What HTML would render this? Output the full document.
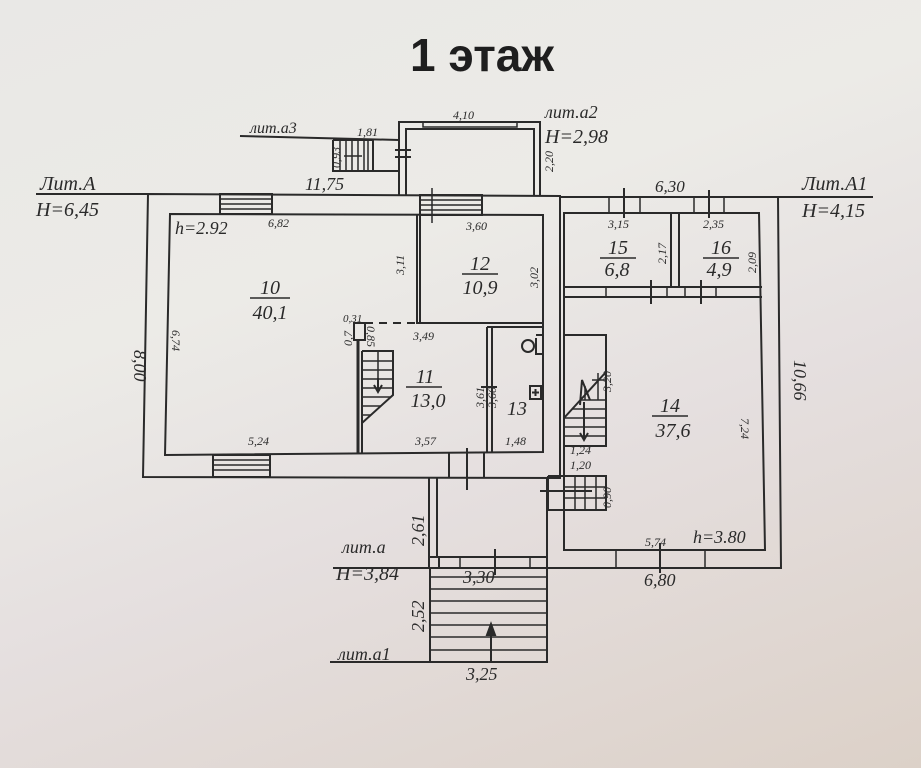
<!DOCTYPE html>
<html><head><meta charset="utf-8"><style>
html,body{margin:0;padding:0;width:921px;height:768px;overflow:hidden}
body{background:linear-gradient(160deg,#e9e8e6 0%,#ecebe7 35%,#e5dfdf 60%,#dcd1c8 100%)}
svg{position:absolute;left:0;top:0}
.t{font-family:"Liberation Serif",serif;font-style:italic;fill:#2a2a2a}
</style></head><body>
<svg width="921" height="768" viewBox="0 0 921 768">
<text x="482" y="71" text-anchor="middle" font-family="Liberation Sans,sans-serif" font-weight="bold" font-size="46" fill="#1e1e1e">1 этаж</text>
<g stroke="#2a2a2a" stroke-width="2" fill="none">
<line x1="36" y1="194" x2="148" y2="194"/>
<line x1="778" y1="197" x2="873" y2="197"/>
<path d="M148,194 L560,196 L560,478 L143,477 Z"/>
<path d="M170,214 L543,215 L543,452 L165,455 Z"/>
<path d="M417,215 L417,323 L543,323"/>
<line x1="420" y1="215" x2="420" y2="323"/>
<line x1="358" y1="340" x2="358" y2="454" stroke-width="3"/>
<line x1="362" y1="351" x2="362" y2="454"/>
<path d="M354,323 L365,323 L365,340 L354,340 Z"/>
<line x1="365" y1="323" x2="417" y2="323" stroke-dasharray="8,6"/>
<line x1="487" y1="327" x2="487" y2="453"/>
<line x1="492" y1="327" x2="492" y2="453"/>
<line x1="487" y1="327" x2="543" y2="327"/>
<line x1="481" y1="387" x2="497" y2="387"/>
<path d="M536,335 L543,335 M536,338 L536,354 L543,354"/>
<circle cx="528" cy="346" r="6"/>
<rect x="530" y="386" width="11" height="13"/>
<line x1="535.5" y1="389" x2="535.5" y2="396"/><line x1="532" y1="392.5" x2="539" y2="392.5"/>
<path d="M362,351 L393,351 L393,395 L362,423"/>
<g stroke-width="1.5"><line x1="362" y1="361" x2="393" y2="361"/><line x1="362" y1="370" x2="393" y2="370"/><line x1="362" y1="379" x2="393" y2="379"/><line x1="362" y1="388" x2="393" y2="388"/><line x1="362" y1="397" x2="391" y2="397"/><line x1="362" y1="406" x2="381" y2="406"/><line x1="362" y1="415" x2="371" y2="415"/><line x1="378" y1="351" x2="378" y2="392"/></g>
<path d="M378,378 L378,392 M374,385 L378,392 L382,385"/>
<rect x="220" y="194" width="52" height="20"/>
<g stroke-width="1.5"><line x1="220" y1="199" x2="272" y2="199"/><line x1="220" y1="204" x2="272" y2="204"/><line x1="220" y1="209" x2="272" y2="209"/></g>
<rect x="420" y="195" width="62" height="20"/>
<g stroke-width="1.5"><line x1="420" y1="200" x2="482" y2="200"/><line x1="420" y1="205" x2="482" y2="205"/><line x1="420" y1="210" x2="482" y2="210"/><line x1="432" y1="188" x2="432" y2="223"/></g>
<rect x="213" y="455" width="57" height="22"/>
<g stroke-width="1.5"><line x1="213" y1="460" x2="270" y2="460"/><line x1="213" y1="465" x2="270" y2="465"/><line x1="213" y1="470" x2="270" y2="470"/></g>
<path d="M449,453 L449,477 M484,453 L484,477"/>
<line x1="467" y1="448" x2="467" y2="490"/>
<path d="M399,195 L399,122 L540,122 L540,196"/>
<path d="M406,195 L406,129 L534,129 L534,196"/>
<rect x="423" y="122" width="94" height="5" stroke-width="1.5"/>
<line x1="395" y1="150" x2="411" y2="150"/><line x1="395" y1="157" x2="411" y2="157"/>
<line x1="240" y1="136" x2="399" y2="140"/>
<path d="M333,140 L373,140 L373,171 L399,171 M333,140 L333,171 L373,171"/>
<g stroke-width="1.5"><line x1="340" y1="140" x2="340" y2="171"/><line x1="346" y1="140" x2="346" y2="171"/><line x1="352" y1="140" x2="352" y2="171"/><line x1="358" y1="140" x2="358" y2="171"/><line x1="364" y1="140" x2="364" y2="171"/><line x1="368" y1="140" x2="368" y2="171"/><line x1="344" y1="156" x2="362" y2="156"/></g>
<path d="M560,197 L778,197 L781,568 L560,568"/>
<path d="M564,213 L759,213 L765,550 L564,550 Z"/>
<path d="M671,213 L671,287 M679,213 L679,287"/>
<path d="M564,287 L762,287 M564,297 L762,297"/>
<g stroke-width="1.5"><line x1="606" y1="287" x2="606" y2="297"/><line x1="667" y1="287" x2="667" y2="297"/><line x1="685" y1="287" x2="685" y2="297"/><line x1="716" y1="287" x2="716" y2="297"/></g>
<line x1="651" y1="280" x2="651" y2="304"/><line x1="701" y1="280" x2="701" y2="304"/>
<rect x="609" y="197" width="31" height="16" stroke-width="1.5"/>
<rect x="694" y="197" width="30" height="16" stroke-width="1.5"/>
<line x1="624" y1="188" x2="624" y2="218"/><line x1="709" y1="190" x2="709" y2="218"/>
<rect x="616" y="550" width="89" height="18" stroke-width="1.5"/>
<line x1="660" y1="543" x2="660" y2="573"/>
<rect x="564" y="335" width="42" height="111"/>
<line x1="564" y1="418" x2="606" y2="372"/>
<g stroke-width="1.5"><line x1="580" y1="400" x2="606" y2="400"/><line x1="572" y1="409" x2="606" y2="409"/><line x1="564" y1="418" x2="606" y2="418"/><line x1="564" y1="427" x2="606" y2="427"/><line x1="564" y1="436" x2="606" y2="436"/><line x1="592" y1="380" x2="606" y2="380"/><line x1="598" y1="373" x2="598" y2="400"/><line x1="585" y1="386" x2="585" y2="400"/></g>
<path d="M584,402 L584,440 M580,433 L584,440 L588,433"/>
<path d="M580,405 L582,380 L590,400"/>
<path d="M548,476 L606,476 L606,510 L548,510 L548,476"/>
<g stroke-width="1.5"><line x1="564" y1="476" x2="564" y2="510"/><line x1="575" y1="476" x2="575" y2="510"/><line x1="585" y1="476" x2="585" y2="510"/><line x1="596" y1="476" x2="596" y2="510"/><line x1="564" y1="487" x2="606" y2="487"/><line x1="564" y1="498" x2="606" y2="498"/></g>
<line x1="540" y1="491" x2="592" y2="491"/>
<path d="M429,478 L429,565 M437,478 L437,557 L547,557 L547,478"/>
<path d="M429,568 L547,568 M547,557 L547,568"/>
<rect x="429" y="557" width="10" height="11"/>
<line x1="460" y1="557" x2="460" y2="568" stroke-width="1.5"/><line x1="530" y1="557" x2="530" y2="568" stroke-width="1.5"/>
<line x1="495" y1="549" x2="495" y2="575"/>
<line x1="333" y1="568" x2="429" y2="568"/>
<line x1="547" y1="568" x2="616" y2="568"/>
<path d="M430,568 L430,662 L547,662 L547,568"/>
<g stroke-width="1.5"><line x1="430" y1="577" x2="547" y2="577"/><line x1="430" y1="589" x2="547" y2="589"/><line x1="430" y1="601" x2="547" y2="601"/><line x1="430" y1="613" x2="547" y2="613"/><line x1="430" y1="625" x2="547" y2="625"/><line x1="430" y1="637" x2="547" y2="637"/><line x1="430" y1="650" x2="547" y2="650"/></g>
<line x1="330" y1="662" x2="430" y2="662"/>
<line x1="491" y1="626" x2="491" y2="662"/>
<path d="M487,635 L491,624 L495,635 Z" fill="#2a2a2a"/>
</g>
<g class="t">
<text x="40" y="190" font-size="20">Лит.А</text>
<text x="36" y="216" font-size="20">H=6,45</text>
<text x="802" y="190" font-size="20">Лит.А1</text>
<text x="802" y="217" font-size="20">H=4,15</text>
<text x="250" y="133" font-size="16">лит.а3</text>
<text x="357" y="136" font-size="12">1,81</text>
<text x="545" y="118" font-size="18">лит.а2</text>
<text x="545" y="143" font-size="20">H=2,98</text>
<text x="453" y="119" font-size="12">4,10</text>
<text x="305" y="190" font-size="18">11,75</text>
<text x="655" y="192" font-size="17">6,30</text>
<text x="175" y="234" font-size="18">h=2.92</text>
<text x="268" y="227" font-size="12">6,82</text>
<text x="466" y="230" font-size="12">3,60</text>
<text x="608" y="228" font-size="12">3,15</text>
<text x="703" y="228" font-size="12">2,35</text>
<text x="270" y="294" text-anchor="middle" font-size="20">10</text>
<line x1="250" y1="298" x2="290" y2="298" stroke="#2a2a2a" stroke-width="1.5"/>
<text x="270" y="319" text-anchor="middle" font-size="20">40,1</text>
<text x="480" y="270" text-anchor="middle" font-size="20">12</text>
<line x1="462" y1="274" x2="498" y2="274" stroke="#2a2a2a" stroke-width="1.5"/>
<text x="480" y="294" text-anchor="middle" font-size="20">10,9</text>
<text x="425" y="383" text-anchor="middle" font-size="20">11</text>
<line x1="406" y1="387" x2="442" y2="387" stroke="#2a2a2a" stroke-width="1.5"/>
<text x="428" y="407" text-anchor="middle" font-size="20">13,0</text>
<text x="517" y="415" text-anchor="middle" font-size="20">13</text>
<text x="618" y="254" text-anchor="middle" font-size="20">15</text>
<line x1="600" y1="258" x2="636" y2="258" stroke="#2a2a2a" stroke-width="1.5"/>
<text x="617" y="276" text-anchor="middle" font-size="20">6,8</text>
<text x="721" y="254" text-anchor="middle" font-size="20">16</text>
<line x1="703" y1="258" x2="739" y2="258" stroke="#2a2a2a" stroke-width="1.5"/>
<text x="719" y="276" text-anchor="middle" font-size="20">4,9</text>
<text x="670" y="412" text-anchor="middle" font-size="20">14</text>
<line x1="652" y1="416" x2="688" y2="416" stroke="#2a2a2a" stroke-width="1.5"/>
<text x="673" y="437" text-anchor="middle" font-size="20">37,6</text>
<text x="693" y="543" font-size="18">h=3.80</text>
<text x="645" y="546" font-size="12">5,74</text>
<text x="644" y="586" font-size="18">6,80</text>
<text x="413" y="340" font-size="12">3,49</text>
<text x="415" y="445" font-size="12">3,57</text>
<text x="505" y="445" font-size="12">1,48</text>
<text x="248" y="445" font-size="12">5,24</text>
<text x="343" y="322" font-size="11">0,31</text>
<text x="570" y="454" font-size="12">1,24</text>
<text x="570" y="469" font-size="12">1,20</text>
<text x="342" y="553" font-size="18">лит.а</text>
<text x="336" y="580" font-size="20">H=3,84</text>
<text x="463" y="583" font-size="18">3,30</text>
<text x="338" y="660" font-size="18">лит.а1</text>
<text x="466" y="680" font-size="18">3,25</text>
<g font-size="12">
<text transform="translate(134,350) rotate(90)" font-size="18">8,00</text>
<text transform="translate(172,330) rotate(90)">6,74</text>
<text transform="translate(404,275) rotate(-90)">3,11</text>
<text transform="translate(538,288) rotate(-90)">3,02</text>
<text transform="translate(553,172) rotate(-90)">2,20</text>
<text transform="translate(666,264) rotate(-90)">2,17</text>
<text transform="translate(756,273) rotate(-90)">2,09</text>
<text transform="translate(794,360) rotate(90)" font-size="18">10,66</text>
<text transform="translate(741,418) rotate(90)">7,24</text>
<text transform="translate(611,392) rotate(-90)">3,20</text>
<text transform="translate(611,508) rotate(-90)">0,90</text>
<text transform="translate(484,408) rotate(-90)">3,61</text>
<text transform="translate(496,408) rotate(-90)">3,60</text>
<text transform="translate(352,346) rotate(-90)">0,7</text>
<text transform="translate(367,326) rotate(90)">0,85</text>
<text transform="translate(340,168) rotate(-90)">0,93</text>
<text transform="translate(424,546) rotate(-90)" font-size="18">2,61</text>
<text transform="translate(424,632) rotate(-90)" font-size="18">2,52</text>
</g>
</g>
</svg>
</body></html>
